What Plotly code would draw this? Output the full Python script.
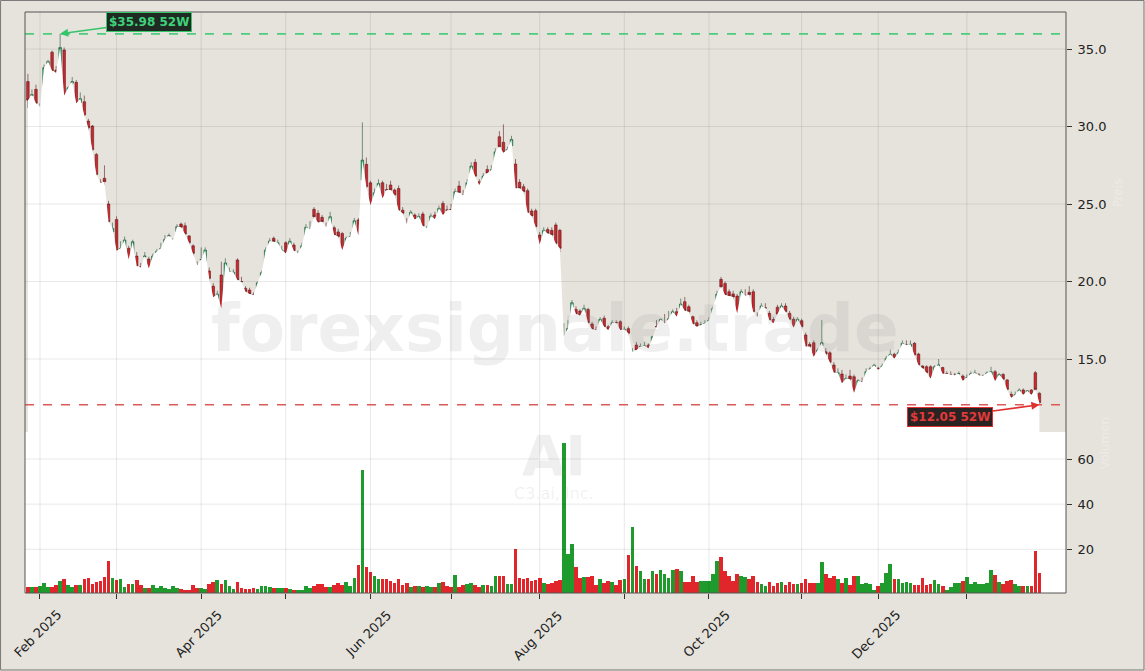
import pandas as pd
import plotly.graph_objects as go

# ---------------- data ----------------
holidays = ["2025-02-17", "2025-04-18", "2025-05-26", "2025-06-19", "2025-07-04",
            "2025-09-01", "2025-11-27", "2025-12-25", "2026-01-01", "2026-01-19"]
dates = pd.bdate_range("2025-01-29", "2026-01-29", freq="C", holidays=holidays)
date_labels = [d.strftime("%Y-%m-%d") for d in dates]

open_ = [
    32.9, 32.0, 32.4, 29.45, 31.9, 33.86, 34.8, 33.65, 33.7, 34.94,
    31.55, 32.8, 32.85, 31.55, 31.6, 30.35, 30.03, 28.2, 26.4, 26.66,
    25.0, 23.2, 24.0, 21.39, 22.14, 22.14, 21.17, 21.64, 20.95, 21.6,
    21.45, 21.34, 21.64, 21.7, 22.25, 22.93, 21.92, 23.2, 23.71, 23.6,
    22.94, 22.3, 21.1, 21.4, 20.85, 20.68, 19.7, 17.73, 20.42, 18.16,
    20.2, 20.2, 21.39, 20.0, 19.56, 19.45, 19.15, 19.56, 20.35, 20.53,
    22.03, 22.79, 22.2, 21.82, 22.5, 22.4, 22.35, 21.34, 21.86, 22.72,
    23.35, 24.66, 24.4, 24.14, 23.56, 23.65, 23.47, 23.2, 23.1, 22.03,
    22.6, 23.43, 23.97, 26.55, 27.56, 26.37, 25.43, 25.8, 26.37, 25.92,
    26.23, 25.9, 26.0, 24.6, 23.77, 24.03, 24.29, 23.97, 24.35, 22.89,
    23.86, 24.29, 23.86, 25.04, 24.62, 24.65, 24.5, 26.16, 25.6, 25.95,
    26.98, 27.69, 26.44, 26.0, 27.23, 27.18, 27.47, 29.34, 28.98, 28.37,
    28.76, 27.58, 26.4, 26.12, 25.86, 24.55, 24.57, 23.0, 22.8, 23.35,
    23.3, 23.65, 23.3, 15.2, 16.48, 16.98, 18.2, 18.1, 17.99, 18.2,
    17.26, 16.88, 16.94, 17.63, 17.08, 17.05, 17.35, 17.41, 16.48, 16.96,
    14.94, 15.9, 15.8, 15.7, 15.9, 15.69, 17.1, 16.55, 17.3, 17.2,
    17.63, 18.05, 17.73, 18.7, 18.37, 17.73, 17.34, 17.2, 17.15, 17.3,
    17.69, 18.6, 20.14, 19.88, 19.34, 19.2, 19.06, 18.27, 19.1, 19.3,
    19.34, 17.75, 18.16, 18.3, 17.95, 17.55, 18.34, 18.05, 18.42, 17.95,
    17.56, 16.98, 17.47, 16.55, 15.95, 16.05, 14.89, 15.85, 15.47, 15.4,
    14.61, 13.69, 14.03, 13.21, 13.9, 13.86, 12.96, 13.5, 13.54, 14.35,
    14.35, 14.4, 14.35, 14.29, 15.0, 15.3, 15.1, 15.32, 15.9, 15.8,
    16.01, 15.32, 14.55, 14.5, 14.5, 13.8, 14.6, 14.45, 14.05, 14.0,
    13.95, 14.05, 13.9, 13.8, 13.86, 13.9, 13.95, 13.7, 13.9, 13.95,
    14.18, 13.6, 14.0, 13.65, 12.72, 12.5, 12.68, 13.0, 12.7, 13.0,
    14.12, 12.79,
]
high = [
    33.4, 32.4, 32.7, 31.5, 34.0, 34.3, 34.9, 33.9, 35.98, 35.1,
    32.6, 33.2, 33.0, 32.2, 32.0, 30.5, 30.1, 28.3, 26.6, 27.5,
    25.2, 23.8, 24.2, 22.6, 22.9, 22.3, 22.7, 21.9, 21.2, 21.9,
    21.6, 21.8, 22.1, 22.5, 23.0, 23.1, 22.8, 23.7, 23.8, 23.8,
    23.0, 22.4, 21.3, 22.2, 22.2, 20.9, 19.9, 19.4, 21.28, 21.5,
    20.9, 20.8, 21.5, 20.3, 19.7, 19.6, 19.3, 20.0, 20.7, 22.2,
    22.8, 22.9, 22.7, 22.3, 22.6, 22.8, 22.5, 22.0, 22.5, 23.7,
    23.9, 24.8, 24.6, 24.3, 23.8, 24.5, 23.6, 23.4, 23.2, 22.9,
    23.2, 24.1, 24.1, 30.27, 28.0, 26.5, 26.0, 26.6, 26.5, 26.3,
    26.5, 26.0, 26.2, 24.8, 24.1, 24.6, 24.4, 24.4, 24.5, 23.6,
    24.4, 24.5, 24.9, 25.2, 24.9, 25.0, 26.0, 26.5, 25.9, 26.6,
    27.7, 27.9, 26.6, 27.0, 27.5, 27.5, 28.6, 29.7, 30.14, 28.7,
    29.4, 27.9, 26.6, 26.3, 26.0, 24.7, 24.7, 23.2, 23.5, 23.5,
    23.5, 23.8, 23.4, 17.3, 17.5, 18.8, 18.4, 18.2, 18.5, 18.3,
    17.4, 17.1, 17.7, 17.8, 17.2, 17.5, 17.5, 17.5, 17.1, 17.1,
    15.7, 16.1, 16.0, 16.1, 16.0, 16.5, 17.52, 17.6, 17.9, 18.1,
    18.2, 18.3, 18.9, 19.0, 18.5, 17.8, 17.5, 17.4, 17.5, 17.7,
    18.4, 19.4, 20.3, 20.0, 19.5, 19.4, 19.2, 19.5, 19.5, 19.7,
    19.5, 18.0, 18.6, 18.6, 18.1, 17.7, 18.5, 18.6, 18.6, 18.1,
    17.7, 17.7, 17.6, 16.7, 16.1, 16.2, 15.7, 17.52, 15.7, 15.5,
    14.8, 14.4, 14.3, 14.0, 14.3, 14.0, 13.7, 13.8, 14.4, 14.5,
    14.7, 14.5, 14.7, 15.2, 15.6, 15.4, 15.6, 16.2, 16.2, 16.2,
    16.1, 15.4, 14.6, 14.6, 14.6, 14.6, 15.0, 14.5, 14.2, 14.2,
    14.1, 14.2, 14.0, 14.0, 14.2, 14.3, 14.1, 14.0, 14.2, 14.5,
    14.3, 14.1, 14.1, 13.7, 12.9, 12.9, 13.1, 13.1, 13.0, 13.05,
    14.23, 12.85,
]
low = [
    31.2, 31.4, 31.1, 29.4, 31.8, 33.5, 33.2, 33.2, 33.4, 31.9,
    31.3, 32.6, 31.3, 31.4, 30.5, 28.4, 28.4, 26.7, 25.26, 26.2,
    23.5, 22.9, 21.8, 21.0, 21.9, 21.2, 21.0, 20.63, 20.6, 21.0,
    20.7, 21.1, 21.4, 21.5, 22.1, 22.7, 21.7, 23.0, 23.3, 22.9,
    22.3, 21.4, 20.7, 20.55, 20.7, 19.9, 18.8, 17.08, 18.1, 18.0,
    19.9, 19.9, 20.0, 19.7, 19.2, 19.0, 18.9, 19.4, 20.2, 20.4,
    21.9, 22.4, 22.0, 21.6, 21.7, 22.2, 21.8, 21.2, 21.7, 22.6,
    23.1, 24.0, 23.7, 23.7, 23.2, 23.5, 22.7, 22.7, 21.9, 21.9,
    22.4, 23.2, 22.7, 25.9, 25.9, 24.6, 25.2, 25.6, 25.2, 25.6,
    25.7, 25.3, 24.5, 24.2, 23.4, 23.9, 23.8, 23.8, 23.4, 22.7,
    23.7, 23.9, 23.7, 24.1, 24.3, 24.3, 24.4, 25.6, 24.9, 25.8,
    26.8, 26.6, 26.0, 25.7, 26.9, 27.0, 27.3, 28.5, 28.1, 27.5,
    28.6, 25.9, 25.8, 25.6, 24.3, 24.0, 23.2, 22.2, 22.6, 22.9,
    22.8, 22.3, 21.9, 14.72, 16.2, 16.9, 17.7, 17.6, 17.8, 17.2,
    16.5, 16.7, 16.8, 16.9, 16.7, 16.9, 17.1, 16.7, 16.3, 16.5,
    14.8, 15.2, 15.5, 15.5, 15.5, 15.6, 16.44, 16.4, 17.0, 17.1,
    17.5, 17.6, 17.6, 18.0, 17.9, 17.1, 16.9, 17.0, 17.0, 17.1,
    17.5, 18.4, 19.5, 19.0, 18.9, 18.8, 17.7, 18.1, 18.9, 18.9,
    17.9, 17.5, 18.0, 18.0, 17.3, 17.1, 17.8, 17.9, 17.9, 17.4,
    16.9, 16.8, 16.9, 15.7, 15.4, 15.0, 14.7, 15.7, 15.1, 14.4,
    13.9, 13.5, 13.3, 13.0, 13.6, 12.61, 12.8, 13.2, 13.4, 14.2,
    14.2, 14.1, 14.2, 14.2, 14.9, 14.9, 15.0, 15.2, 15.7, 15.6,
    15.1, 14.5, 14.2, 14.0, 13.6, 13.7, 14.4, 13.9, 13.9, 13.8,
    13.8, 13.9, 13.5, 13.6, 13.7, 13.8, 13.8, 13.6, 13.8, 13.8,
    13.5, 13.5, 13.6, 12.9, 12.4, 12.4, 12.6, 12.6, 12.6, 12.55,
    12.9, 12.05,
]
close = [
    31.7, 32.05, 31.5, 31.3, 33.8, 34.2, 33.6, 33.47, 35.1, 32.0,
    32.5, 32.9, 31.5, 31.8, 30.74, 29.9, 28.5, 26.9, 26.37, 26.44,
    23.86, 23.43, 21.99, 22.14, 22.68, 21.43, 22.57, 21.0, 20.9, 21.64,
    20.85, 21.64, 21.95, 22.14, 22.72, 22.95, 22.68, 23.54, 23.5, 23.06,
    22.5, 21.82, 21.06, 21.42, 22.03, 20.2, 18.98, 19.19, 18.27, 21.2,
    20.63, 20.6, 20.1, 19.99, 19.34, 19.19, 19.13, 19.92, 20.57, 22.03,
    22.61, 22.57, 22.5, 22.03, 21.82, 22.6, 21.99, 21.82, 22.3, 23.5,
    23.37, 24.18, 23.8, 23.86, 23.54, 24.18, 23.0, 22.9, 22.03, 22.79,
    22.9, 23.92, 23.0, 27.84, 26.12, 24.94, 25.73, 26.33, 25.37, 25.9,
    25.9, 25.58, 24.6, 24.4, 23.75, 24.47, 24.0, 24.2, 23.58, 23.43,
    24.23, 24.03, 24.72, 24.29, 24.6, 24.62, 25.8, 25.73, 25.58, 26.37,
    27.45, 26.8, 26.23, 26.8, 27.0, 27.2, 28.37, 28.7, 28.31, 28.52,
    29.17, 26.01, 26.01, 25.8, 24.46, 24.23, 23.54, 22.4, 23.3, 23.1,
    23.0, 22.46, 22.14, 16.45, 16.98, 18.63, 17.9, 17.8, 18.27, 17.34,
    16.92, 16.87, 17.56, 17.08, 16.87, 17.34, 17.34, 16.87, 16.92, 16.66,
    15.47, 15.58, 15.8, 15.85, 15.7, 16.44, 17.08, 17.56, 17.3, 17.6,
    18.05, 17.74, 18.55, 18.12, 18.05, 17.26, 17.08, 17.2, 17.3, 17.5,
    18.27, 19.19, 19.66, 19.13, 19.06, 19.0, 17.95, 19.34, 19.1, 19.15,
    18.05, 17.73, 18.42, 18.3, 17.52, 17.3, 17.9, 18.42, 18.05, 17.56,
    17.04, 17.56, 17.08, 15.8, 15.8, 15.15, 15.58, 16.05, 15.32, 14.79,
    14.12, 14.12, 13.43, 13.75, 13.7, 12.83, 13.6, 13.5, 14.18, 14.35,
    14.6, 14.3, 14.55, 15.04, 15.3, 15.04, 15.4, 16.01, 15.9, 15.95,
    15.26, 14.61, 14.4, 14.12, 13.75, 14.5, 14.6, 14.05, 14.05, 14.0,
    13.95, 14.05, 13.6, 13.8, 14.05, 14.1, 13.95, 13.9, 14.1, 14.18,
    13.58, 14.0, 13.7, 13.04, 12.5, 12.7, 13.0, 12.7, 12.95, 12.7,
    13.04, 12.18,
]
volume = [  # millions
    3.3, 3.3, 3.3, 3.8, 5.0, 3.3, 3.3, 4.2, 6.0, 6.9,
    4.2, 3.3, 4.2, 4.2, 6.9, 7.1, 4.6, 5.5, 6.0, 7.8,
    14.8, 7.3, 6.4, 6.9, 3.3, 4.6, 4.6, 6.4, 4.2, 2.9,
    2.9, 4.2, 2.9, 3.8, 2.9, 2.4, 3.8, 2.9, 2.4, 2.0,
    2.0, 4.2, 2.9, 2.9, 2.4, 4.6, 5.5, 6.4, 4.6, 6.4,
    3.8, 2.4, 5.5, 2.9, 2.4, 2.4, 2.9, 2.4, 3.8, 3.8,
    3.3, 2.9, 2.9, 2.9, 2.9, 2.4, 2.0, 2.0, 2.0, 3.8,
    2.9, 3.8, 4.6, 4.6, 3.3, 3.3, 4.2, 5.1, 4.2, 5.5,
    3.8, 7.3, 13.1, 55.1, 12.2, 10.0, 8.2, 6.9, 6.9, 6.9,
    6.0, 5.1, 6.9, 4.2, 5.1, 3.3, 3.8, 3.8, 3.3, 3.8,
    3.3, 3.3, 5.1, 5.5, 3.8, 3.3, 8.6, 3.3, 4.2, 4.6,
    5.1, 4.2, 3.3, 4.2, 4.2, 3.8, 8.2, 8.2, 8.2, 4.6,
    4.6, 20.1, 7.3, 6.9, 7.3, 6.0, 6.4, 7.3, 5.1, 4.65,
    5.1, 6.0, 6.4, 67.3, 17.9, 22.3, 12.2, 7.3, 7.8, 7.8,
    8.2, 4.2, 6.9, 5.1, 6.0, 5.5, 4.2, 6.4, 6.9, 17.5,
    29.9, 12.6, 10.4, 6.9, 6.9, 10.4, 9.0, 10.8, 9.0, 7.3,
    10.8, 11.4, 10.4, 5.5, 5.5, 8.2, 5.5, 6.0, 6.0, 6.0,
    9.0, 14.8, 16.6, 10.4, 8.2, 6.0, 9.0, 8.2, 7.8, 6.9,
    8.2, 5.5, 4.65, 3.8, 5.5, 3.8, 5.1, 5.5, 4.2, 5.5,
    4.65, 4.65, 5.1, 6.9, 5.1, 5.1, 5.1, 14.2, 9.0, 7.3,
    8.2, 6.9, 5.1, 7.3, 4.2, 8.2, 8.2, 4.65, 5.1, 4.65,
    2.0, 3.8, 5.1, 9.3, 13.7, 6.9, 6.9, 5.1, 5.5, 5.1,
    4.2, 4.2, 7.3, 4.2, 4.65, 6.4, 4.65, 3.8, 2.0, 3.3,
    5.1, 5.1, 5.98, 7.77, 4.65, 5.5, 4.65, 4.65, 5.1, 10.8,
    8.4, 5.5, 4.65, 5.98, 6.4, 4.65, 3.8, 3.8, 3.8, 3.8,
    19.2, 9.4,
]
price_ticks = [15, 20, 25, 30, 35]
volume_ticks = [20, 40, 60]
title_watermark = "forexsignale.trade"
ticker = "AI"
company = "C3.ai, Inc."

# ---------------- styling ----------------
BEIGE = "#E6E3DD"
FONT = "DejaVu Sans"
GREEN_VOL = "#1f9a2c"
RED_VOL = "#e0262a"

n = len(date_labels)
vol_colors = [GREEN_VOL if c >= o else RED_VOL for o, c in zip(open_, close)]

# month ticks (first trading day of each month after the first date)
tick_vals, tick_text = [], []
for i in range(1, n):
    if dates[i].month != dates[i - 1].month:
        tick_vals.append(date_labels[i])
        tick_text.append(dates[i].strftime("%b %Y") if dates[i].month % 2 == 0 else "")
tick_idx = [date_labels.index(v) for v in tick_vals]

hi_val = max(high)
hi_i = high.index(hi_val)
lo_val = min(low)
lo_i = low.index(lo_val)

split = 0.2771

fig = go.Figure()

# white area under close
fig.add_trace(go.Scatter(
    x=date_labels, y=close, mode="lines", line=dict(width=0, color="white"),
    fill="tozeroy", fillcolor="white", hoverinfo="skip", showlegend=False,
    xaxis="x", yaxis="y"))

fig.add_trace(go.Candlestick(
    x=date_labels, open=open_, high=high, low=low, close=close,
    increasing=dict(line=dict(color="#24553a", width=0.6), fillcolor="#2fb46a"),
    decreasing=dict(line=dict(color="#5a1c1c", width=0.6), fillcolor="#d0262d"),
    whiskerwidth=0, showlegend=False, xaxis="x", yaxis="y"))

fig.add_trace(go.Bar(
    x=date_labels, y=volume, marker=dict(color=vol_colors, line=dict(width=0)),
    width=0.9, showlegend=False, xaxis="x", yaxis="y2"))

shapes = []
# volume panel background
shapes.append(dict(type="rect", xref="paper", yref="paper", x0=0, x1=1, y0=0, y1=split,
                   fillcolor="white", line=dict(width=0), layer="below"))
GRID = "rgba(0,0,0,0.09)"
for ti in tick_idx:
    shapes.append(dict(type="line", xref="x", yref="paper", x0=ti, x1=ti, y0=0, y1=1,
                       line=dict(color=GRID, width=1), layer="above"))
for p in price_ticks:
    shapes.append(dict(type="line", xref="paper", yref="y", x0=0, x1=1, y0=p, y1=p,
                       line=dict(color=GRID, width=1), layer="above"))
for v in volume_ticks:
    shapes.append(dict(type="line", xref="paper", yref="y2", x0=0, x1=1, y0=v, y1=v,
                       line=dict(color=GRID, width=1), layer="above"))
# 52W lines
shapes.append(dict(type="line", xref="paper", yref="y", x0=0, x1=1, y0=hi_val, y1=hi_val,
                   line=dict(color="#4fcb7c", width=1.6, dash="dash"), layer="above"))
shapes.append(dict(type="line", xref="paper", yref="y", x0=0, x1=1, y0=lo_val, y1=lo_val,
                   line=dict(color="#de5858", width=1.6, dash="dash"), layer="above"))
# plot frame
shapes.append(dict(type="rect", xref="paper", yref="paper", x0=0, x1=1, y0=0, y1=1,
                   line=dict(color="#555555", width=1), fillcolor="rgba(0,0,0,0)", layer="above"))
# outer figure border
shapes.append(dict(type="rect", xref="paper", yref="paper", x0=-0.0235, x1=1.0749,
                   y0=-0.1325, y1=1.0198, line=dict(color="#7a7a7a", width=1),
                   fillcolor="rgba(0,0,0,0)", layer="above"))

annotations = [
    dict(text=f"<b>{title_watermark}</b>", xref="paper", yref="paper", x=0.509, y=0.456,
         xanchor="center", yanchor="middle", showarrow=False,
         font=dict(family=FONT, size=66, color="rgba(128,128,128,0.13)")),
    dict(text=f"<b>{ticker}</b>", xref="paper", yref="paper", x=0.508, y=0.236,
         xanchor="center", yanchor="middle", showarrow=False,
         font=dict(family=FONT, size=56, color="rgba(128,128,128,0.13)")),
    dict(text=company, xref="paper", yref="paper", x=0.508, y=0.172,
         xanchor="center", yanchor="middle", showarrow=False,
         font=dict(family=FONT, size=16, color="rgba(128,128,128,0.12)")),
    dict(text="Preis", xref="paper", yref="paper", x=1.050, y=0.688, textangle=-90,
         xanchor="center", yanchor="middle", showarrow=False,
         font=dict(family=FONT, size=12, color="rgba(255,255,255,0.3)")),
    dict(text="Volumen", xref="paper", yref="paper", x=1.0375, y=0.258, textangle=-90,
         xanchor="center", yanchor="middle", showarrow=False,
         font=dict(family=FONT, size=12, color="rgba(255,255,255,0.3)")),
    dict(text=f"<b>${hi_val:.2f} 52W</b>", x=date_labels[hi_i], y=hi_val, xref="x", yref="y",
         ax=89, ay=-12, showarrow=True, arrowhead=2, arrowsize=1, arrowwidth=1.6,
         arrowcolor="#36c46a", font=dict(family=FONT, size=12, color="#3fd27a"),
         bgcolor="#1f2a23", bordercolor="#36c46a", borderwidth=1, borderpad=2),
    dict(text=f"<b>${lo_val:.2f} 52W</b>", x=date_labels[lo_i], y=lo_val, xref="x", yref="y",
         ax=-89, ay=12, showarrow=True, arrowhead=2, arrowsize=1, arrowwidth=1.6,
         arrowcolor="#e03030", font=dict(family=FONT, size=12, color="#e03a3a"),
         bgcolor="#2b2222", bordercolor="#e03030", borderwidth=1, borderpad=2),
]
# rotated date labels, centred under their ticks (as in the reference)
for tv, tt in zip(tick_vals, tick_text):
    if tt:
        annotations.append(dict(text=tt, x=tv, xref="x", y=-0.02, yref="paper",
                                xanchor="center", yanchor="top", textangle=-45,
                                showarrow=False, xshift=-2,
                                font=dict(family=FONT, size=13, color="#222222")))

fig.update_layout(
    width=1145, height=671,
    margin=dict(l=25, r=79, t=12, b=78, autoexpand=False),
    paper_bgcolor=BEIGE, plot_bgcolor=BEIGE,
    font=dict(family=FONT, size=13, color="#222222"),
    showlegend=False, bargap=0, boxgap=0.1, hovermode=False,
    xaxis=dict(type="category", range=[-0.72, 257.6], anchor="y2", automargin=False,
               tickmode="array", tickvals=tick_vals, showticklabels=False,
               ticks="outside", ticklen=5, tickcolor="#333333", showgrid=False,
               showline=False, zeroline=False, rangeslider=dict(visible=False)),
    yaxis=dict(domain=[split, 1], range=[10.29, 37.39], side="right", anchor="x",
               automargin=False, tickmode="array", tickvals=price_ticks,
               ticktext=[f"{p:.1f}" for p in price_ticks],
               ticks="outside", ticklen=5, tickcolor="#333333", showgrid=False,
               zeroline=False, showline=False, ticklabelstandoff=3,
               tickfont=dict(family=FONT, size=13, color="#222222")),
    yaxis2=dict(domain=[0, split], range=[0.64, 71.96], side="right", anchor="x",
                automargin=False, tickmode="array", tickvals=volume_ticks,
                ticktext=[str(v) for v in volume_ticks],
                ticks="outside", ticklen=5, tickcolor="#333333", showgrid=False,
                zeroline=False, showline=False, ticklabelstandoff=3,
                tickfont=dict(family=FONT, size=13, color="#222222")),
    shapes=shapes, annotations=annotations,
)

fig.write_html(
    "out.html",
    config={"displayModeBar": False},
    post_script="document.body.style.margin='0px';document.body.style.overflow='hidden';"
                "document.body.style.background='" + BEIGE + "';",
)
